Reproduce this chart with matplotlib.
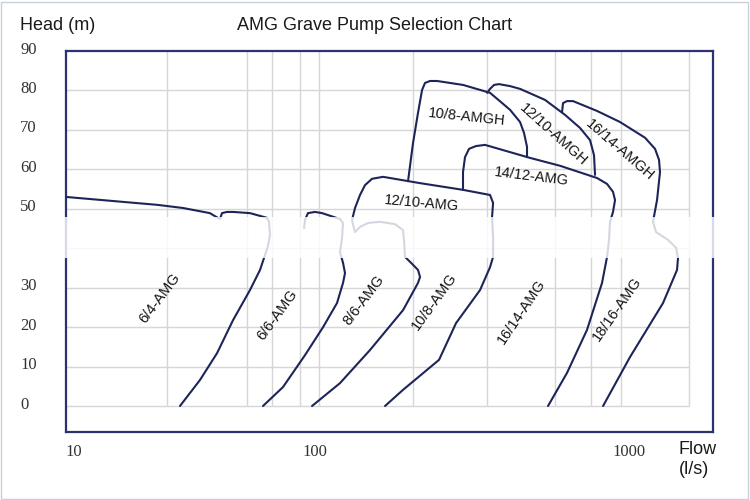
import numpy as np
import matplotlib
matplotlib.use("Agg")
import matplotlib.pyplot as plt
from matplotlib.patches import Rectangle
from matplotlib.ticker import NullLocator
import matplotlib.transforms as mtransforms

# ---------------- data (flow in l/s, head in m) ----------------
# 6/4-AMG: top envelope + right boundary
c64_flow = [9.31, 22.2, 28.4, 36.7, 39.6, 40.4, 41.2, 43.2, 45.8, 53.8, 63.3, 64.5, 65.1,
            63.9, 62.1, 59.2, 53.8, 45.8, 39.3, 33.4, 27.6]
c64_head = [53.0, 51.0, 50.2, 48.9, 47.7, 47.4, 48.9, 49.2, 49.2, 48.9, 47.7, 46.7, 43.4,
            40.6, 38.3, 34.5, 29.4, 21.8, 13.4, 6.6, 0.0]
# 6/6-AMG
c66_flow = [90.1, 90.9, 93.5, 100, 105.3, 120.1, 122.8, 121.9, 120.1, 122.8, 124.6, 122.8,
            117.5, 106.1, 90.9, 73.7, 60.9]
c66_head = [45.1, 47.2, 48.9, 49.2, 48.9, 47.4, 46.4, 42.6, 39.0, 36.3, 33.7, 31.2,
            26.1, 20.0, 12.9, 4.8, 0.0]
# 8/6-AMG -> 12/10-AMG -> 10/8-AMG (one continuous outline)
c86_flow = [97.2, 120.1, 149.7, 190.7, 212.8, 216.0, 212.8, 202.2, 193.5, 192.0, 190.7, 179.8,
            161.1, 147.5, 139.1, 134.1, 132.2, 131.2, 134.1, 139.1, 144.3, 151.9, 164.7, 216.0,
            296.0, 360.9, 369.0, 366.3, 369.0, 369.0, 360.9, 335.4, 281.2, 248.3, 190.7, 167.1]
c86_head = [0.0, 5.8, 14.2, 24.3, 31.2, 32.7, 34.5, 36.3, 37.8, 42.1, 44.6, 46.1,
            46.7, 46.4, 45.4, 44.1, 45.9, 47.2, 50.2, 53.5, 56.0, 57.6, 58.1, 56.5,
            54.8, 53.5, 51.5, 47.9, 42.8, 37.8, 35.2, 29.4, 21.0, 11.7, 4.1, 0.0]
# 10/8-AMGH
c108h_flow = [197.8, 205.2, 212.8, 219.2, 224.0, 232.4, 244.6, 296.0, 360.9, 417.8, 449.7,
              463.1, 473.3, 473.3]
c108h_head = [57.0, 66.7, 74.3, 80.1, 81.9, 82.4, 82.4, 81.4, 79.4, 75.1, 72.0,
              69.2, 65.7, 63.1]
# 12/10-AMGH
c1210h_flow = [353.1, 360.9, 371.7, 385.5, 417.8, 449.7, 540.2, 625.6, 698.1, 751.3, 773.5, 779.4]
c1210h_head = [79.4, 80.4, 81.4, 81.6, 81.1, 80.4, 77.6, 73.8, 70.5, 67.4, 63.6, 58.6]
# 14/12-AMG -> 16/14-AMG
c1412_flow = [296.0, 296.0, 300.4, 309.4, 325.6, 347.8, 483.8, 603.0, 791.0, 851.1, 889.2,
              902.4, 889.2, 869.9, 863.5, 851.1, 820.4, 734.8, 634.7, 552.1]
c1412_head = [54.8, 59.3, 63.1, 65.2, 65.9, 66.2, 62.9, 60.9, 57.8, 56.3, 54.3,
              52.2, 49.2, 46.7, 42.1, 37.8, 31.2, 19.3, 8.4, 0.0]
# 16/14-AMGH -> 18/16-AMG
c1614h_flow = [611.9, 616.4, 634.7, 663.2, 791.0, 935.9, 1125, 1210, 1246, 1255, 1228, 1192,
               1219, 1332, 1412, 1432, 1422, 1283, 1007, 826.6]
c1614h_head = [74.5, 76.8, 77.3, 77.3, 74.8, 72.0, 68.0, 65.2, 62.4, 59.3, 52.2, 46.7,
               44.1, 42.1, 40.1, 37.5, 34.5, 26.1, 12.4, 0.0]

curves = [(c64_flow, c64_head), (c66_flow, c66_head), (c86_flow, c86_head),
          (c108h_flow, c108h_head), (c1210h_flow, c1210h_head),
          (c1412_flow, c1412_head), (c1614h_flow, c1614h_head)]

# curve labels: text, flow, head, angle
label_text = ["6/4-AMG", "6/6-AMG", "8/6-AMG", "10/8-AMG", "16/14-AMG", "18/16-AMG",
              "12/10-AMG", "14/12-AMG", "10/8-AMGH", "12/10-AMGH", "16/14-AMGH"]
label_flow = [22.8, 69.6, 143.2, 239.3, 456.0, 915.7, 219.2, 490.8, 304.9, 572.9, 935.9]
label_head = [27.4, 23.1, 26.9, 26.4, 23.8, 24.6, 51.5, 58.1, 73.3, 68.7, 64.9]
label_angle = [53, 54, 53, 54, 56, 55, -5, -7, -6, -42, -41]

x_ticks = [10, 100, 1000]
x_tick_labels = ["10", "100", "1000"]
y_ticks = [0, 10, 20, 30, 50, 60, 70, 80, 90]
y_tick_labels = ["0", "10", "20", "30", "50", "60", "70", "80", "90"]
grid_head = [0, 10, 20, 30, 40, 50, 60, 70, 80]
grid_flow = [24.4, 52.2, 66.4, 86.7, 103, 205, 353, 581, 757, 943, 1552]

title = "AMG Grave Pump Selection Chart"
y_title = "Head (m)"
x_title1 = "Flow"
x_title2 = "(l/s)"

# ---------------- style ----------------
NAVY = "#1d2558"
FRAME = "#2c3270"
GRID = "#d6d6d6"
SANS = ["Liberation Sans", "DejaVu Sans"]
SERIF = ["Liberation Serif", "DejaVu Serif"]

# hand-drawn log axis: decade 10-100 narrower than 100-1000
D1, D2 = 241.5, 314.0


def fwd(x):
    x = np.asarray(x, dtype=float)
    l = np.log10(np.clip(x, 1e-9, None))
    return np.where(l <= 2, (l - 1) * D1, D1 + (l - 2) * D2)


def inv(u):
    u = np.asarray(u, dtype=float)
    return np.where(u <= D1, 10 ** (1 + u / D1), 10 ** (2 + (u - D1) / D2))


fig = plt.figure(figsize=(7.5, 5), dpi=100)
fig.patch.set_facecolor("white")
ax = fig.add_axes([66 / 750, 68 / 500, 647 / 750, 381 / 500])
ax.set_xscale("function", functions=(fwd, inv))
ax.set_xlim(9.31, 1851)
ax.set_ylim(-6.59, 90)

ax.hlines(grid_head, 9.31, grid_flow[-1], color=GRID, lw=1.0, zorder=1)
ax.vlines(grid_flow, 0, 90, color=GRID, lw=1.0, zorder=1)

for fl, hd in curves:
    ax.plot(fl, hd, color=NAVY, lw=1.5, solid_joinstyle="round", solid_capstyle="round", zorder=3)

for t, fl, hd, ang in zip(label_text, label_flow, label_head, label_angle):
    ax.text(fl, hd, t, rotation=ang, rotation_mode="anchor", ha="center", va="center",
            fontsize=10.5, family=SANS, color="#151515", zorder=4)

for s in ax.spines.values():
    s.set_color(FRAME)
    s.set_linewidth(1.6)

ax.set_xticks(x_ticks, x_tick_labels)
ax.set_yticks(y_ticks, y_tick_labels)
ax.xaxis.set_minor_locator(NullLocator())
ax.yaxis.set_minor_locator(NullLocator())
ax.tick_params(length=0, labelsize=12, labelcolor="#333333")
ax.tick_params(axis="x", pad=9)
ax.tick_params(axis="y", pad=33)
off = mtransforms.ScaledTranslation(0, 2.5 / 72, fig.dpi_scale_trans)
for lab in ax.get_yticklabels():
    lab.set_horizontalalignment("left")
    lab.set_fontfamily(SERIF)
    lab.set_transform(lab.get_transform() + off)
for lab in ax.get_xticklabels():
    lab.set_fontfamily(SERIF)

fig.text(20 / 750, 1 - 26 / 500, y_title, ha="left", va="center", fontsize=13, family=SANS, color="#1a1a1a")
fig.text(374.5 / 750, 1 - 26 / 500, title, ha="center", va="center", fontsize=13, family=SANS, color="#1a1a1a")
fig.text(678 / 750, 1 - 449 / 500, x_title1, ha="left", va="center", fontsize=13, family=SANS, color="#1a1a1a")
fig.text(679 / 750, 1 - 470 / 500, x_title2, ha="left", va="center", fontsize=13, family=SANS, color="#1a1a1a")

# faded horizontal band as in the source image
fig.patches.append(Rectangle((0, 1 - 258 / 500), 1, 41 / 500, transform=fig.transFigure,
                             facecolor="white", edgecolor="none", alpha=0.82, zorder=5))
# thin outer border
fig.patches.append(Rectangle((1 / 750, 1.5 / 500), 747 / 750, 497 / 500, transform=fig.transFigure,
                             fill=False, edgecolor="#c8d0da", lw=1.0, zorder=6))

fig.savefig("out.png", dpi=100, facecolor="white")
